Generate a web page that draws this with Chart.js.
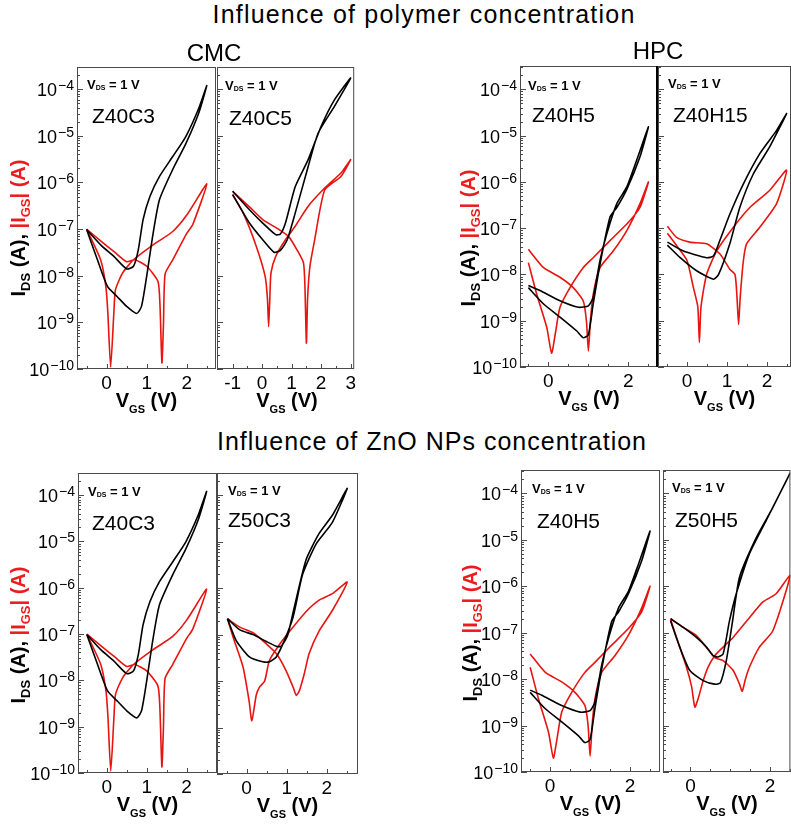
<!DOCTYPE html>
<html>
<head>
<meta charset="utf-8">
<script src="https://cdn.jsdelivr.net/npm/chart.js@4.4.1/dist/chart.umd.min.js"></script>
<style>
  body { margin: 0; background: #fff; width: 791px; height: 826px; overflow: hidden; position: relative;
         font-family: 'Liberation Sans', Arial, Helvetica, sans-serif; }
  canvas { position: absolute; }
  .t { position: absolute; white-space: nowrap; color: #000; z-index: 5; }
  .sub { position: relative; }
  .red { color: #ec1c1c; }
</style>
</head>
<body>
<script>
const FONT = "'Liberation Sans', Arial, Helvetica, sans-serif";
const BLACK = '#000000';
const RED = '#e8140f';

// ---------- data (V_GS in V, current in A) ----------
// Z40C3  (used twice: CMC row and ZnO row)
const z40c3_ds_v = [-0.5, -0.23, 0.02, 0.26, 0.5, 0.75, 0.87, 1.0, 1.16, 1.32, 1.65, 1.98, 2.3, 2.5,
                    2.3, 1.98, 1.65, 1.32, 1.08, 0.91, 0.79, 0.67, 0.5, 0.18, -0.15, -0.5];
const z40c3_ds_i = [9.8e-8, 2.2e-8, 5.9e-9, 3.6e-9, 2.2e-9, 1.55e-9, 2.2e-9, 9.8e-9, 8.1e-8, 4.3e-7, 1.9e-6, 6.9e-6, 3.1e-5, 1.2e-4,
                    3.9e-5, 9.8e-6, 3.6e-6, 1.35e-6, 5.0e-7, 1.6e-7, 3.6e-8, 1.6e-8, 1.4e-8, 2.6e-8, 4.6e-8, 9.8e-8];
const z40c3_gs_v = [-0.5, -0.15, 0.2, 0.5, 0.7, 1.0, 1.28, 1.33, 1.38, 1.42, 1.46, 1.65, 2.0, 2.15, 2.5,
                    2.0, 1.65, 1.16, 0.67, 0.4, 0.22, 0.18, 0.1, 0.03, -0.02, -0.15, -0.5];
const z40c3_gs_i = [1.0e-7, 5.6e-8, 3.2e-8, 2.0e-8, 2.2e-8, 1.6e-8, 7.6e-9, 2.5e-9, 1.35e-10, 1.0e-9, 1.1e-8, 2.2e-8, 8.1e-8, 1.26e-7, 9.3e-7,
                    2.0e-7, 8.9e-8, 4.6e-8, 2.2e-8, 1.15e-8, 5.0e-9, 1.6e-9, 1.1e-10, 1.6e-9, 5.9e-9, 2.2e-8, 1.0e-7];

// Z40C5
const z40c5_ds_v = [-1, -0.43, 0.02, 0.46, 0.62, 0.79, 1.12, 1.56, 2.0, 2.45, 3.0,
                    2.45, 1.9, 1.56, 1.12, 0.85, 0.62, 0.4, 0.02, -0.43, -1];
const z40c5_ds_i = [6.5e-7, 2.6e-7, 1.35e-7, 7.6e-8, 7.9e-8, 1.35e-7, 8.1e-7, 3.1e-6, 1.6e-5, 5.9e-5, 1.74e-4,
                    4.3e-5, 1.15e-5, 2.2e-6, 2.2e-7, 5.9e-8, 3.5e-8, 3.2e-8, 5.9e-8, 1.35e-7, 5.5e-7];
const z40c5_gs_v = [-1, -0.43, 0.02, 0.57, 0.9, 1.18, 1.4, 1.45, 1.5, 1.54, 1.62, 1.78, 2.12, 2.67, 3.0,
                    2.67, 2.12, 1.56, 1.12, 0.79, 0.46, 0.3, 0.26, 0.22, 0.18, 0.1, -0.2, -0.64, -1];
const z40c5_gs_i = [6.5e-7, 3.0e-7, 1.6e-7, 9.8e-8, 6.9e-8, 3.6e-8, 1.9e-8, 5.9e-9, 3.6e-10, 3.2e-9, 1.6e-8, 5.9e-8, 6.9e-7, 1.35e-6, 3.1e-6,
                    1.6e-6, 7.6e-7, 3.1e-7, 1.15e-7, 5.9e-8, 2.6e-8, 1.15e-8, 3.2e-9, 8.1e-10, 3.2e-9, 9.8e-9, 4.3e-8, 2.2e-7, 5.5e-7];

// Z40H5  (used twice: HPC row and ZnO row)
const z40h5_ds_v = [-0.5, -0.12, 0.29, 0.71, 0.87, 1.0, 1.12, 1.29, 1.54, 1.71, 1.96, 2.29, 2.5,
                    2.21, 1.96, 1.71, 1.46, 1.29, 1.12, 1.0, 0.75, 0.29, -0.21, -0.5];
const z40h5_ds_i = [5.2e-9, 2.3e-9, 1.2e-9, 6.0e-10, 4.3e-10, 5.0e-10, 2.3e-9, 1.66e-8, 1.74e-7, 2.8e-7, 6.9e-7, 3.5e-6, 1.55e-5,
                    3.0e-6, 7.8e-7, 3.4e-7, 7.6e-8, 2.0e-8, 3.2e-9, 2.1e-9, 1.95e-9, 2.7e-9, 4.5e-9, 5.8e-9];
const z40h5_gs_v = [-0.5, -0.29, -0.04, 0.08, 0.17, 0.29, 0.54, 0.87, 1.12, 1.54, 1.96, 2.29, 2.5,
                    2.29, 1.96, 1.62, 1.29, 1.12, 1.05, 1.0, 0.95, 0.87, 0.62, 0.29, -0.12, -0.5];
const z40h5_gs_i = [1.8e-8, 3.7e-9, 7.1e-10, 2.0e-10, 5.1e-10, 1.95e-9, 5.2e-9, 1.4e-8, 2.3e-8, 5.4e-8, 1.23e-7, 2.8e-7, 1.0e-6,
                    3.4e-7, 8.9e-8, 3.2e-8, 1.4e-8, 3.7e-9, 1.0e-9, 2.2e-10, 1.0e-9, 2.7e-9, 5.2e-9, 8.7e-9, 1.4e-8, 3.5e-8];

// Z40H15
const z40h15_ds_v = [-0.49, -0.09, 0.49, 0.66, 0.82, 1.07, 1.41, 1.82, 2.24, 2.49,
                     2.07, 1.66, 1.32, 1.07, 0.79, 0.66, 0.24, -0.17, -0.49];
const z40h15_ds_i = [5.0e-8, 3.2e-8, 2.3e-8, 2.5e-8, 5.4e-8, 2.0e-7, 9.1e-7, 4.1e-6, 1.3e-5, 3.0e-5,
                     5.8e-6, 1.5e-6, 2.8e-7, 4.6e-8, 1.0e-8, 7.9e-9, 1.2e-8, 2.3e-8, 4.3e-8];
const z40h15_gs_v = [-0.49, -0.26, 0.07, 0.49, 0.82, 1.07, 1.2, 1.25, 1.29, 1.33, 1.41, 1.49, 1.82, 2.24, 2.49,
                     2.07, 1.57, 1.16, 0.74, 0.49, 0.35, 0.31, 0.27, 0.16, 0.0, -0.24, -0.49];
const z40h15_gs_i = [1.1e-7, 6.3e-8, 5.0e-8, 4.6e-8, 2.8e-8, 1.3e-8, 1.0e-8, 3.2e-9, 8.3e-10, 3.2e-9, 2.0e-8, 4.6e-8, 1.05e-7, 3.4e-7, 1.8e-6,
                     6.6e-7, 2.8e-7, 1.05e-7, 3.2e-8, 1.0e-8, 2.0e-9, 3.4e-10, 2.0e-9, 5.2e-9, 2.0e-8, 4.0e-8, 7.8e-8];

// Z50C3
const z50c3_ds_v = [-0.48, -0.17, 0.16, 0.49, 0.74, 0.86, 1.02, 1.19, 1.48, 1.81, 2.14, 2.51,
                    2.14, 1.74, 1.4, 1.16, 0.94, 0.74, 0.57, 0.4, 0.07, -0.26, -0.48];
const z50c3_ds_i = [2.2e-7, 1.26e-7, 1.0e-7, 7.1e-8, 5.6e-8, 5.6e-8, 9.5e-8, 3.9e-7, 4.0e-6, 1.5e-5, 3.7e-5, 1.4e-4,
                    2.6e-5, 9.1e-6, 2.0e-6, 2.4e-7, 7.4e-8, 3.3e-8, 2.6e-8, 2.6e-8, 3.3e-8, 7.4e-8, 2.2e-7];
const z50c3_gs_v = [-0.48, -0.17, 0.16, 0.4, 0.74, 0.98, 1.16, 1.24, 1.32, 1.44, 1.56, 1.81, 2.14, 2.51,
                    2.14, 1.81, 1.48, 1.16, 0.83, 0.57, 0.45, 0.32, 0.24, 0.13, 0.06, -0.09, -0.34, -0.48];
const z50c3_gs_i = [2.2e-7, 1.45e-7, 1.1e-7, 7.4e-8, 3.9e-8, 1.7e-8, 7.4e-9, 4.9e-9, 6.3e-9, 1.45e-8, 3.9e-8, 1.2e-7, 3.3e-7, 1.35e-6,
                    7.6e-7, 5.5e-7, 3.1e-7, 1.45e-7, 6.3e-8, 2.8e-8, 1.0e-8, 7.4e-9, 5.0e-9, 1.4e-9, 3.8e-9, 2.0e-8, 8.9e-8, 2.2e-7];

// Z50H5
const z50h5_ds_v = [-0.5, -0.18, 0.15, 0.4, 0.57, 0.69, 0.82, 0.98, 1.15, 1.48, 1.9, 2.5,
                    2.07, 1.65, 1.23, 1.05, 0.9, 0.75, 0.61, 0.32, -0.02, -0.27, -0.5];
const z50h5_ds_i = [2.0e-7, 1.3e-7, 7.9e-8, 4.9e-8, 3.2e-8, 3.0e-8, 3.5e-8, 1.8e-7, 6.9e-7, 5.0e-6, 2.6e-5, 2.7e-4,
                    5.0e-5, 1.1e-5, 1.55e-6, 1.6e-7, 2.5e-8, 8.3e-9, 7.8e-9, 9.3e-9, 1.55e-8, 4.9e-8, 1.8e-7];
const z50h5_gs_v = [-0.5, -0.18, 0.15, 0.4, 0.61, 0.82, 1.07, 1.23, 1.3, 1.38, 1.48, 1.73, 2.07, 2.5,
                    2.15, 1.82, 1.48, 1.07, 0.82, 0.61, 0.44, 0.32, 0.2, 0.11, 0.03, -0.1, -0.35, -0.5];
const z50h5_gs_i = [2.0e-7, 1.3e-7, 8.7e-8, 4.9e-8, 2.9e-8, 2.5e-8, 1.55e-8, 7.9e-9, 5.5e-9, 1.0e-8, 1.8e-8, 4.9e-8, 1.1e-7, 1.7e-6,
                    6.9e-7, 4.6e-7, 2.1e-7, 7.9e-8, 4.9e-8, 3.2e-8, 1.8e-8, 9.3e-9, 4.0e-9, 2.5e-9, 6.8e-9, 1.8e-8, 7.9e-8, 1.9e-7];

// ---------- ticks ----------
const yDecades = [-10, -9, -8, -7, -6, -5, -4, -3];
const yLabelDecades = [-10, -9, -8, -7, -6, -5, -4];
const xTicksHalf = [-0.5, 0, 0.5, 1, 1.5, 2, 2.5];
const xTicksWide = [-1, -0.5, 0, 0.5, 1, 1.5, 2, 2.5, 3];
const xLabels012 = [0, 1, 2];
const xLabels02 = [0, 2];
const xLabelsWide = [-1, 0, 1, 2, 3];

// ---------- panel layout ----------
const panels = [
  { name: 'Z40C3',  box: [77, 67, 216, 369],  x: [-0.74, 2.73],  yMax: 3e-4,   xt: xTicksHalf, xl: xLabels012,  yAxis: true,
    ds: [z40c3_ds_v, z40c3_ds_i], gs: [z40c3_gs_v, z40c3_gs_i], nameAt: [92, 123], vdsAt: [87, 89], yTitle: [19, 228] },
  { name: 'Z40C5',  box: [217, 67, 357, 369], x: [-1.53, 3.12],  yMax: 3e-4,   xt: xTicksWide, xl: xLabelsWide, yAxis: false,
    ds: [z40c5_ds_v, z40c5_ds_i], gs: [z40c5_gs_v, z40c5_gs_i], nameAt: [229, 125], vdsAt: [225, 90] },
  { name: 'Z40H5',  box: [520, 66, 658, 367], x: [-0.71, 2.74],  yMax: 3.2e-4, xt: xTicksHalf, xl: xLabels02,   yAxis: true,
    ds: [z40h5_ds_v, z40h5_ds_i], gs: [z40h5_gs_v, z40h5_gs_i], nameAt: [532, 122], vdsAt: [528, 90], yTitle: [469, 238],
    darkRight: true },
  { name: 'Z40H15', box: [658, 66, 791, 367], x: [-0.725, 2.6],  yMax: 3.2e-4, xt: xTicksHalf, xl: xLabels012,  yAxis: false,
    ds: [z40h15_ds_v, z40h15_ds_i], gs: [z40h15_gs_v, z40h15_gs_i], nameAt: [673, 122], vdsAt: [668, 88] },
  { name: 'Z40C3',  box: [78, 473, 217, 773], x: [-0.72, 2.76],  yMax: 3e-4,   xt: xTicksHalf, xl: xLabels012,  yAxis: true,
    ds: [z40c3_ds_v, z40c3_ds_i], gs: [z40c3_gs_v, z40c3_gs_i], nameAt: [92, 530], vdsAt: [88, 496], yTitle: [19, 635] },
  { name: 'Z50C3',  box: [217, 473, 358, 774], x: [-0.74, 2.78],  yMax: 3e-4,   xt: xTicksHalf, xl: xLabels012,  yAxis: false,
    ds: [z50c3_ds_v, z50c3_ds_i], gs: [z50c3_gs_v, z50c3_gs_i], nameAt: [228, 527], vdsAt: [228, 495] },
  { name: 'Z40H5',  box: [521, 470, 660, 772], x: [-0.73, 2.75],  yMax: 3.2e-4, xt: xTicksHalf, xl: xLabels02,   yAxis: true,
    ds: [z40h5_ds_v, z40h5_ds_i], gs: [z40h5_gs_v, z40h5_gs_i], nameAt: [537, 528], vdsAt: [532, 493], yTitle: [471, 633] },
  { name: 'Z50H5',  box: [663, 470, 791, 772], x: [-0.69, 2.51],  yMax: 3.2e-4, xt: xTicksHalf, xl: xLabels02,   yAxis: false,
    ds: [z50h5_ds_v, z50h5_ds_i], gs: [z50h5_gs_v, z50h5_gs_i], nameAt: [675, 527], vdsAt: [672, 492] }
];

const PAD_T = 3, PAD_R = 2, PAD_B = 28, YAXIS_W = 62;

function pairs(xs, ys) {
  return xs.map((v, i) => ({ x: v, y: ys[i] }));
}

// text placed by its baseline
function addText(html, x, base, size, opt) {
  opt = opt || {};
  const d = document.createElement('div');
  d.className = 't';
  d.innerHTML = html;
  d.style.fontSize = size + 'px';
  d.style.lineHeight = size + 'px';
  d.style.left = x + 'px';
  d.style.top = (base - 0.8465 * size) + 'px';
  if (opt.bold) d.style.fontWeight = 'bold';
  if (opt.center) d.style.transform = 'translateX(-50%)';
  if (opt.ls) d.style.letterSpacing = opt.ls + 'px';
  document.body.appendChild(d);
  return d;
}

function frameFor(p) {
  return {
    id: 'frame',
    afterDraw(chart) {
      const ctx = chart.ctx, a = chart.chartArea;
      const xs = chart.scales.x, ys = chart.scales.y;
      ctx.save();
      ctx.strokeStyle = '#4a4a4a';
      ctx.lineWidth = 1;
      ctx.strokeRect(a.left + 0.5, a.top + 0.5, a.right - a.left - 1, a.bottom - a.top - 1);
      if (p.darkRight) {
        ctx.save();
        ctx.strokeStyle = '#000';
        ctx.lineWidth = 2;
        ctx.beginPath();
        ctx.moveTo(a.right - 1, a.top);
        ctx.lineTo(a.right - 1, a.bottom);
        ctx.stroke();
        ctx.restore();
      }
      ctx.beginPath();
      yDecades.forEach(e => {
        for (let m = 1; m <= 9; m++) {
          const v = m * Math.pow(10, e);
          if (v > ys.max * 1.001) break;
          const py = Math.round(ys.getPixelForValue(v)) + 0.5;
          ctx.moveTo(a.left, py);
          ctx.lineTo(a.left + (m === 1 ? 6 : 3), py);
        }
      });
      p.xt.forEach(v => {
        const px = Math.round(xs.getPixelForValue(v)) + 0.5;
        ctx.moveTo(px, a.bottom);
        ctx.lineTo(px, a.bottom - (p.xl.includes(v) ? 5 : 3));
      });
      ctx.stroke();

      if (p.yAxis) {
        ctx.fillStyle = '#000';
        ctx.textAlign = 'left';
        ctx.textBaseline = 'alphabetic';
        yLabelDecades.forEach(e => {
          const py = ys.getPixelForValue(Math.pow(10, e));
          const ex = '\u2212' + Math.abs(e);
          ctx.font = '14px ' + FONT;
          const ew = ctx.measureText(ex).width;
          const exLeft = a.left - 3 - ew;
          ctx.fillText(ex, exLeft, py + 1);
          ctx.font = '18px ' + FONT;
          const bw = ctx.measureText('10').width;
          ctx.fillText('10', exLeft - 1 - bw, py + 7);
        });
      }
      ctx.restore();
    }
  };
}

function makePanel(p) {
  const [l, t, r, b] = p.box;
  const padL = p.yAxis ? YAXIS_W : 0;
  const cv = document.createElement('canvas');
  const w = r - l + padL + PAD_R;
  const h = b - t + PAD_T + PAD_B;
  cv.width = w; cv.height = h;
  cv.style.left = (l - padL) + 'px';
  cv.style.top = (t - PAD_T) + 'px';
  cv.style.width = w + 'px';
  cv.style.height = h + 'px';
  document.body.appendChild(cv);

  new Chart(cv, {
    type: 'scatter',
    data: {
      datasets: [
        { data: pairs(p.ds[0], p.ds[1]), showLine: true, borderColor: BLACK, borderWidth: 1.6,
          pointRadius: 0, tension: 0.2 },
        { data: pairs(p.gs[0], p.gs[1]), showLine: true, borderColor: RED, borderWidth: 1.6,
          pointRadius: 0, tension: 0.2 }
      ]
    },
    options: {
      responsive: false,
      animation: false,
      events: [],
      layout: { padding: { top: PAD_T, right: PAD_R, left: 0, bottom: 0 } },
      plugins: { legend: { display: false }, tooltip: { enabled: false } },
      scales: {
        x: {
          type: 'linear', min: p.x[0], max: p.x[1],
          grid: { display: false, drawTicks: false },
          border: { display: false },
          afterBuildTicks: s => { s.ticks = p.xt.map(v => ({ value: v })); },
          afterFit: s => { s.height = PAD_B; },
          ticks: {
            autoSkip: false, maxRotation: 0, padding: 3, color: '#000',
            font: { size: 19, family: FONT },
            callback: v => (p.xl.includes(v) ? String(v) : '')
          }
        },
        y: {
          type: 'logarithmic', min: 1e-10, max: p.yMax,
          grid: { display: false, drawTicks: false },
          border: { display: false },
          ticks: { display: false },
          afterFit: s => { s.width = padL; }
        }
      }
    },
    plugins: [frameFor(p)]
  });

  // annotations and axis titles
  addText('V<span class="sub" style="font-size:7px;top:1px">DS</span> = 1 V', p.vdsAt[0], p.vdsAt[1], 13, { bold: true });
  addText(p.name, p.nameAt[0], p.nameAt[1], 21);
  addText('V<span class="sub" style="font-size:11px;top:6px">GS</span> (V)', (l + r) / 2, b + 38, 20, { bold: true, center: true });
  if (p.yTitle) {
    const d = document.createElement('div');
    d.className = 't';
    d.style.fontSize = '20px';
    d.style.lineHeight = '20px';
    d.style.fontWeight = 'bold';
    d.style.left = p.yTitle[0] + 'px';
    d.style.top = p.yTitle[1] + 'px';
    d.style.transform = 'translate(-50%, -50%) rotate(-90deg)';
    d.innerHTML = 'I<span class="sub" style="font-size:13px;top:5px">DS</span> (A), ' +
      '<span class="red">|I<span class="sub" style="font-size:13px;top:5px">GS</span>| (A)</span>';
    document.body.appendChild(d);
  }
}

// titles
addText('Influence of polymer concentration', 424, 23, 25, { center: true, ls: 1.2 });
addText('CMC', 214, 61, 24, { center: true });
addText('HPC', 658, 59, 24, { center: true });
addText('Influence of ZnO NPs concentration', 432, 450, 25, { center: true, ls: 1.0 });

panels.forEach(makePanel);
</script>
</body>
</html>
